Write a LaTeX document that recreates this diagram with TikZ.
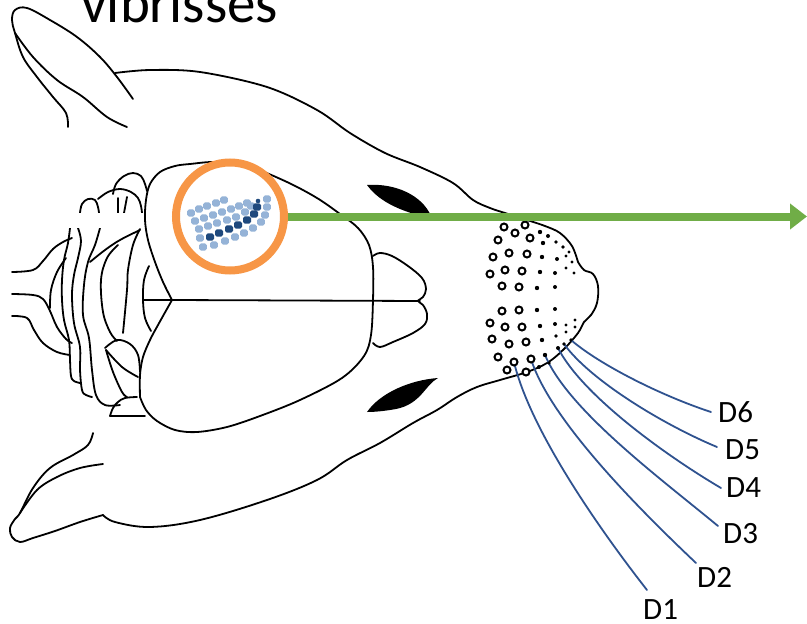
\documentclass[tikz,border=0pt]{standalone}
\usepackage{fontspec}
\setmainfont{Carlito}
\usetikzlibrary{arrows.meta}
\definecolor{ringorange}{HTML}{F79646}
\definecolor{axisgreen}{HTML}{70AD47}
\definecolor{whiskerblue}{HTML}{2F528F}
\definecolor{barrellight}{HTML}{95B3D7}
\definecolor{barreldark}{HTML}{1F497D}
\begin{document}
\begin{tikzpicture}[x=1pt,y=-1pt,
  ln/.style={line width=1.8pt,line cap=round,line join=round},
  whisker/.style={draw=whiskerblue,line width=1.8pt,line cap=round},
  lbl/.style={anchor=base west,inner sep=0pt,font=\fontsize{31}{34}\selectfont},
  follicle/.style={line width=2pt},
  lightcell/.style={fill=barrellight,rounded corners=1.8pt},
  darkcell/.style={fill=barreldark,rounded corners=1.8pt}]
\useasboundingbox (0,0) rectangle (807,624);

% title
\node[anchor=base west,inner sep=0pt,font=\fontsize{57}{64}\selectfont] (title) at (81,22) {vibrisses};

% upper ear
\draw[ln] plot[smooth,tension=.6] coordinates {(133,99) (117,77) (100,57) (77,37) (50,20) (27,8) (15,10) (12,20) (15,33) (23,57) (37,77) (53,97) (66,113) (68,127)};
\draw[ln] plot[smooth,tension=.6] coordinates {(15,33) (33,57) (57,80) (83,97) (107,117) (127,127)};

% head outline, upper side to the nose
\draw[ln] plot[smooth,tension=.55] coordinates {(115,73) (150,70) (200,72) (267,87) (317,110) (350,133) (385,153) (420,167) (453,183) (473,200) (490,208) (505,213) (527,220) (545,226) (560,233) (572,246) (578,262)};
% nose and lower side
\draw[ln] plot[smooth,tension=.6] coordinates {(578,262) (584,270) (593,274) (598,286) (597,303) (591,315) (584,322) (578,333) (563,350) (547,363) (527,372) (500,380) (477,387) (457,397) (437,410) (413,423) (380,443) (347,460) (317,480) (267,500) (200,520) (150,527) (115,522) (103,515)};

% lower ear
\draw[ln] plot[smooth,tension=.6] coordinates {(103,515) (80,522) (55,531) (33,538) (20,542) (12,537) (10,528) (15,519) (20,513) (33,488) (50,468) (73,455) (88,445) (93,433)};
\draw[ln] plot[smooth,tension=.6] coordinates {(20,513) (37,490) (57,477) (80,468) (103,464)};

% eyes
\fill (367,185) .. controls (395,183) and (422,195) .. (431,216) -- (414,214) .. controls (395,208) and (378,200) .. cycle;
\fill (367,412) .. controls (380,393) and (410,380) .. (438,378) .. controls (425,385) and (421,404) .. (396,409) .. controls (385,411) and (375,412) .. cycle;

% cerebrum
\draw[ln] plot[smooth,tension=.55] coordinates {(172,300) (163,282) (155,262) (148,240) (145,220) (146,200) (150,184) (160,172) (175,166) (190,164) (217,162) (250,167) (287,182) (317,198) (340,214) (358,228) (369,245) (373,267) (373,300) (371,335) (364,356) (342,378) (300,400) (260,416) (227,427) (197,432) (175,430) (157,421) (146,410) (140,397)};
\draw[ln] plot[smooth,tension=.55] coordinates {(140,397) (140,375) (143,357) (150,340) (158,325) (172,300)};
\draw[ln] (143,300) -- (172,300) -- (420,301);

% olfactory bulbs
\draw[ln] plot[smooth,tension=.6] coordinates {(373,256) (380,253) (392,256) (408,266) (422,278) (426,289) (423,297) (418,301) (423,305) (427,314) (425,324) (413,333) (393,342) (380,347) (373,343)};

% cerebellum lobes above the gap
\draw[ln] plot[smooth,tension=.6] coordinates {(113,194) (116,184) (124,176) (133,173) (141,176) (145,184) (147,191)};
\draw[ln] plot[smooth,tension=.6] coordinates {(98,199) (108,192) (120,189) (131,192) (138,198) (141,206) (142,213)};
\draw[ln] plot[smooth,tension=.6] coordinates {(80,213) (82,204) (88,199) (95,200) (98,207) (99,213)};
\draw[ln] (118,198) -- (118,213);
\draw[ln] (127,197) -- (124,213);

% cerebellum folia below the gap
\draw[ln] plot[smooth,tension=.6] coordinates {(70,228) (68,243) (64,260) (62,280) (62,300) (64,320) (69,340) (70,360) (71,376) (74,381) (80,383)};
\draw[ln] plot[smooth,tension=.6] coordinates {(78,228) (81,241) (78,258) (74,275) (72,295) (74,323) (80,347) (80,370) (82,390) (86,395) (92,397)};
\draw[ln] plot[smooth,tension=.6] coordinates {(100,228) (95,245) (88,262) (84,285) (83,315) (89,338) (92,370) (96,395) (105,405) (120,405)};
\draw[ln] plot[smooth,tension=.6] coordinates {(90,262) (105,250) (120,240) (140,230)};
\draw[ln] plot[smooth,tension=.6] coordinates {(118,245) (107,258) (101,280) (103,312) (110,332) (117,341)};
\draw[ln] plot[smooth,tension=.6] coordinates {(140,229) (133,245) (128,270) (127,290) (123,333)};
\draw[ln] plot[smooth,tension=.6] coordinates {(105,348) (117,340) (130,344) (138,355) (140,372)};
\draw[ln] plot[smooth,tension=.6] coordinates {(106,350) (122,367) (138,377)};
\draw[ln] plot[smooth,tension=.6] coordinates {(106,350) (113,372) (122,392) (127,397)};
\draw[ln] plot[smooth,tension=.6] coordinates {(110,416) (113,408) (118,402) (125,398) (137,397)};
\draw[ln] (110,416) -- (145,416);
\draw[ln] plot[smooth,tension=.6] coordinates {(149,266) (144,280) (143,300) (145,318) (151,331)};
\draw[ln] plot[smooth,tension=.6] coordinates {(66,258) (57,272) (51,290) (50,308)};

% spinal cord
\draw[ln] plot[smooth,tension=.6] coordinates {(12,272) (33,270) (43,261) (53,249) (63,242) (72,238)};
\draw[ln] plot[smooth,tension=.6] coordinates {(12,294) (33,295) (43,299) (50,311) (57,327) (66,339) (72,343)};
\draw[ln] plot[smooth,tension=.6] coordinates {(12,316) (27,318) (34,330) (43,343) (57,352) (70,355)};

% horizontal gap across the cerebellum
\fill[white] (68,212.5) rectangle (143,228);

% D-row whiskers
\coordinate (f1) at (514,362);
\coordinate (f2) at (531,359);
\coordinate (f3) at (545,355);
\coordinate (f4) at (558,348);
\coordinate (f5) at (564,344);
\coordinate (f6) at (571,340);
\coordinate (e1) at (647,590);
\coordinate (e2) at (696,563);
\coordinate (e3) at (718,526);
\coordinate (e4) at (721,488);
\coordinate (e5) at (717,447);
\coordinate (e6) at (711,412);
\draw[whisker] (f1) .. controls (530,430) and (600,530) .. (e1);
\draw[whisker] (f2) .. controls (550,420) and (640,510) .. (e2);
\draw[whisker] (f3) .. controls (568,410) and (660,478) .. (e3);
\draw[whisker] (f4) .. controls (582,395) and (665,455) .. (e4);
\draw[whisker] (f5) .. controls (590,380) and (662,424) .. (e5);
\draw[whisker] (f6) .. controls (600,365) and (662,396) .. (e6);

% whisker pad: large follicles
\foreach \x/\y in {504/227,525/225,498/240,515/233,530/238,493/257,509/253,527/254,
  490/274,505/270,522/271,502/286,519/287,502/311,519/310,490/323,505/327,522/327,
  492/339,509/344,526/342,498/357,514/362,531/359,507/370,526/372}
  \draw[follicle,fill=white] (\x,\y) circle[radius=3.5];
% whisker pad: small follicles
\foreach \x/\y/\r in {540/232/2.2,548/236/2,543/243/2.2,556/242/1.9,563/247/1.8,569/252/1.6,
  542/257/2.2,557/259/2,566/256/1.7,572/262/1.6,540/272/2.2,555/273/2,566/268/1.7,574/273/1.6,
  537/288/2.2,555/287/2,537/310/2.2,555/309/2,540/326/2.2,555/324/2,566/325/1.7,575/320/1.6,
  542/340/2.2,556/336/1.9,566/332/1.7,575/327/1.6,545/355/2.2,558/348/2,564/344/1.9,571/340/1.8,
  539/367/2,549/363/1.9}
  \fill (\x,\y) circle[radius=\r];

% barrel cortex
\node[circle,draw=ringorange,fill=white,line width=8pt,minimum size=108pt,inner sep=0pt] (ring) at (230,216.5) {};
\foreach \x/\y in {191/213,199/209,207/206,216/203,224/200,
  195/221,204/218,213/215,222/212,231/209,239/206,247/203,
  199/229,208/226,217/223,227/220,236/217,245/212,251/206,
  200/238,203/247,214/245,225/241,235/237,244/233,253/228,261/222,265/215,267/207,267/199}
  \fill[lightcell] (\x,\y) ++(-3.9,-3.6) rectangle ++(7.8,7.2);
\foreach \x/\y in {210/237,219/233,229/229,238/225,247/220,254/214,257/207}
  \fill[darkcell] (\x,\y) ++(-4,-3.7) rectangle ++(8,7.4);
\fill[barreldark] (258,201) circle[radius=2.3];

% axis arrow
\draw[draw=axisgreen,line width=8pt,-{Triangle[length=17pt,width=25pt]}] (ring.east) -- (807,216.5);

% labels
\node[lbl] (D6) at (718,422) {D6};
\node[lbl] (D5) at (725,459) {D5};
\node[lbl] (D4) at (726,497) {D4};
\node[lbl] (D3) at (723,543) {D3};
\node[lbl] (D2) at (697,587) {D2};
\node[lbl] (D1) at (643,619) {D1};
\end{tikzpicture}
\end{document}
